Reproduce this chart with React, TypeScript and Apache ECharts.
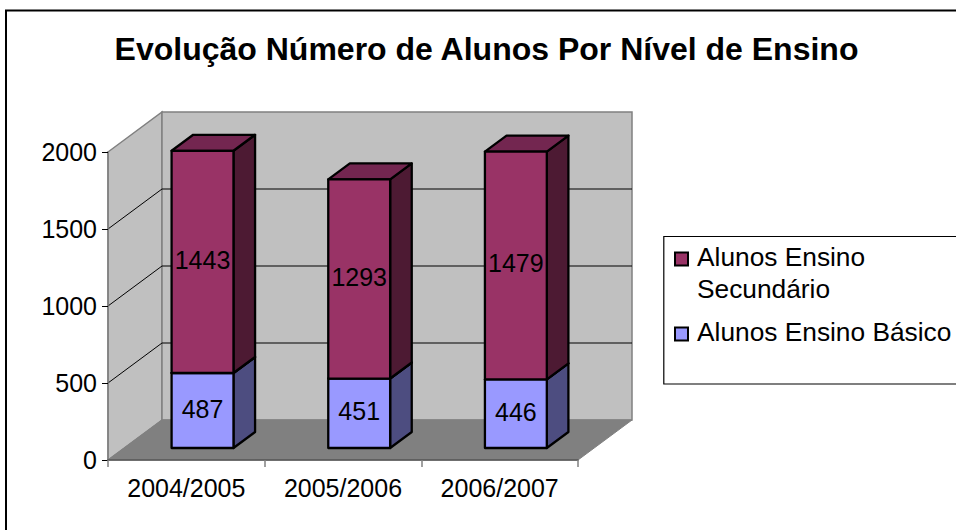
import React, { useEffect, useRef } from "react";
import * as echarts from "echarts";

const titleText = "Evolução Número de Alunos Por Nível de Ensino";
const categories = ["2004/2005", "2005/2006", "2006/2007"];
const basicName = "Alunos Ensino Básico";
const secondaryName = "Alunos Ensino Secundário";
const basicValues = [487, 451, 446];
const secondaryValues = [1443, 1293, 1479];
const yTicks = [0, 500, 1000, 1500, 2000];

const FONT = '"Liberation Sans", Arial, sans-serif';
const DEPTH_X = 54;
const DEPTH_Y = -40;
const Z_FRONT = 0.3;
const Z_BACK = 0.7;
const BAR_RATIO = 0.395;
// Legend square sits a little below the centre of its text line.
const LEGEND_ICON = "path://M0,0L0,0M0,5H13V18H0Z";

function barRenderer(
  base: number[],
  vals: number[],
  colors: { front: string; top: string; side: string },
  labelDy: number
) {
  return (_p: any, api: any) => {
    const i = api.value(0);
    const low = api.coord([i, base[i]]);
    const high = api.coord([i, base[i] + vals[i]]);
    const w = api.size([1, 0])[0] * BAR_RATIO;
    const fx = low[0] - w / 2 + DEPTH_X * Z_FRONT;
    const fy = DEPTH_Y * Z_FRONT;
    const dx = DEPTH_X * (Z_BACK - Z_FRONT);
    const dy = DEPTH_Y * (Z_BACK - Z_FRONT);
    const y0 = low[1] + fy;
    const y1 = high[1] + fy;
    const line = { stroke: "#000", lineWidth: 2.3, lineJoin: "round" };
    return {
      type: "group",
      children: [
        {
          type: "polygon",
          shape: { points: [[fx + w, y0], [fx + w + dx, y0 + dy], [fx + w + dx, y1 + dy], [fx + w, y1]] },
          style: { fill: colors.side, ...line },
        },
        {
          type: "polygon",
          shape: { points: [[fx, y1], [fx + w, y1], [fx + w + dx, y1 + dy], [fx + dx, y1 + dy]] },
          style: { fill: colors.top, ...line },
        },
        {
          type: "polygon",
          shape: { points: [[fx, y0], [fx + w, y0], [fx + w, y1], [fx, y1]] },
          style: { fill: colors.front, ...line },
        },
        {
          type: "text",
          x: fx + w / 2,
          y: (y0 + y1) / 2 + labelDy,
          style: {
            text: String(vals[i]),
            fill: "#000",
            fontSize: 25,
            fontFamily: FONT,
            align: "center",
            verticalAlign: "middle",
          },
        },
      ],
    };
  };
}

export default function App() {
  const ref = useRef<HTMLDivElement>(null);

  useEffect(() => {
    const chart = echarts.init(ref.current!, null, { renderer: "svg" });
    const purple = { front: "#993366", top: "#732650", side: "#4D1A33" };
    const blue = { front: "#9999FF", top: "#7373BF", side: "#4D4D80" };
    const legendText = { fontFamily: FONT, fontSize: 26.3, color: "#000", lineHeight: 32 };
    chart.setOption({
      animation: false,
      backgroundColor: "#fff",
      title: {
        text: titleText,
        left: 486.5,
        textAlign: "center",
        top: 33,
        padding: 0,
        textStyle: { fontFamily: FONT, fontSize: 32, fontWeight: "bold", color: "#000" },
      },
      grid: { left: 108, top: 152, width: 470, height: 308 },
      xAxis: {
        type: "category",
        data: categories,
        z: 5,
        axisLine: { lineStyle: { color: "#555", width: 1.5 } },
        axisTick: { show: true, length: 7, lineStyle: { color: "#808080", width: 1.5 } },
        axisLabel: { fontFamily: FONT, fontSize: 25, color: "#000", margin: 15 },
        splitLine: { show: false },
      },
      yAxis: {
        type: "value",
        min: 0,
        max: 2000,
        interval: 500,
        z: 5,
        axisLine: { show: true, lineStyle: { color: "#808080", width: 1.5 } },
        axisTick: { show: true, length: 6, lineStyle: { color: "#000", width: 1 } },
        axisLabel: { fontFamily: FONT, fontSize: 25, color: "#000", margin: 11, formatter: (v: number) => String(v) },
        splitLine: { show: false },
      },
      legend: {
        left: 674,
        top: 206,
        orient: "vertical",
        padding: 0,
        itemGap: 6,
        itemWidth: 13,
        itemHeight: 18,
        selectedMode: false,
        formatter: (n: string) => (n === secondaryName ? "\nAlunos Ensino\nSecundário" : n),
        textStyle: legendText,
        data: [
          {
            name: secondaryName,
            icon: LEGEND_ICON,
            itemStyle: { color: purple.front, borderColor: "#000", borderWidth: 2 },
            textStyle: { ...legendText, padding: [0, 0, 5, 4] },
          },
          {
            name: basicName,
            icon: LEGEND_ICON,
            itemStyle: { color: blue.front, borderColor: "#000", borderWidth: 2 },
            textStyle: { ...legendText, padding: [0, 0, 5, 4] },
          },
        ],
      },
      graphic: [
        {
          type: "polyline",
          silent: true,
          shape: { points: [[6, 532], [6, 10.5], [958, 10.5]] },
          style: { stroke: "#000", lineWidth: 2, fill: "none" },
        },
        {
          type: "polyline",
          silent: true,
          shape: { points: [[958, 236.5], [663.8, 236.5], [663.8, 384], [958, 384]] },
          style: { stroke: "#000", lineWidth: 1.2, fill: "none" },
        },
      ],
      series: [
        {
          type: "custom",
          name: "walls",
          silent: true,
          z: 1,
          data: [[0]],
          renderItem: (p: any) => {
            const { x, y, width: w, height: h } = p.coordSys;
            const b = y + h;
            const bx = x + DEPTH_X;
            const by = b + DEPTH_Y;
            const edge = { stroke: "#808080", lineWidth: 1.5 };
            return {
              type: "group",
              children: [
                { type: "polygon", shape: { points: [[x, y], [bx, y + DEPTH_Y], [bx, by], [x, b]] }, style: { fill: "#C0C0C0", ...edge } },
                { type: "polygon", shape: { points: [[bx, y + DEPTH_Y], [bx + w, y + DEPTH_Y], [bx + w, by], [bx, by]] }, style: { fill: "#C0C0C0", ...edge } },
                { type: "polygon", shape: { points: [[x, b], [x + w, b], [bx + w, by], [bx, by]] }, style: { fill: "#808080", stroke: "#808080", lineWidth: 1 } },
              ],
            };
          },
        },
        {
          type: "custom",
          name: "gridlines",
          silent: true,
          z: 1,
          data: yTicks.slice(1, -1).map((t) => [t]),
          renderItem: (p: any, api: any) => {
            const y = api.coord([0, api.value(0)])[1];
            const { x, width: w } = p.coordSys;
            return {
              type: "polyline",
              shape: { points: [[x, y], [x + DEPTH_X, y + DEPTH_Y], [x + DEPTH_X + w, y + DEPTH_Y]] },
              style: { stroke: "#000", lineWidth: 1, fill: "none" },
            };
          },
        },
        {
          type: "custom",
          name: basicName,
          silent: true,
          z: 2,
          itemStyle: { color: blue.front },
          data: categories.map((_, i) => [i]),
          renderItem: barRenderer(categories.map(() => 0), basicValues, blue, -2),
        },
        {
          type: "custom",
          name: secondaryName,
          silent: true,
          z: 3,
          itemStyle: { color: purple.front },
          data: categories.map((_, i) => [i]),
          renderItem: barRenderer(basicValues, secondaryValues, purple, -2),
        },
      ],
    });
    return () => chart.dispose();
  }, []);

  return <div ref={ref} style={{ position: "absolute", left: 0, top: 0, width: 956, height: 530 }} />;
}
